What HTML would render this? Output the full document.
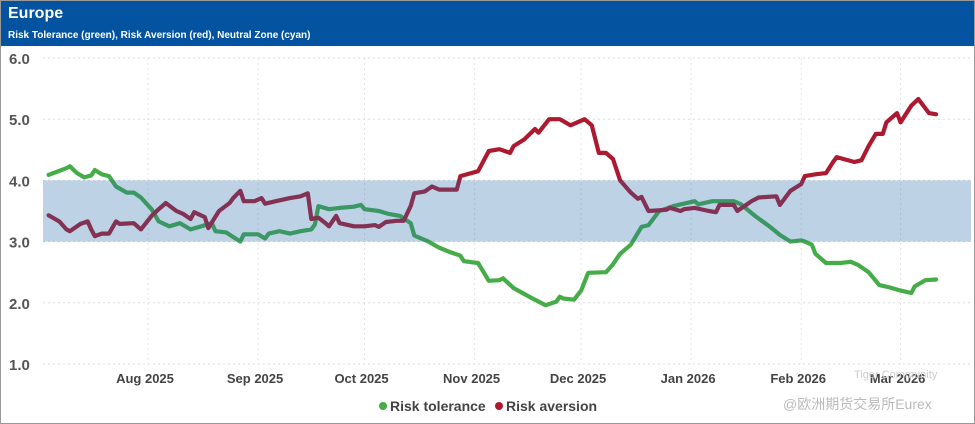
<!DOCTYPE html>
<html><head><meta charset="utf-8"><style>
body{margin:0;background:#fff;font-family:"Liberation Sans",sans-serif;}
#wrap{position:relative;width:973px;height:422px;border:1px solid #999;overflow:hidden;}
#hdr{position:absolute;left:0;top:0;width:973px;height:45px;background:#0453a0;color:#fff;}
#t1{position:absolute;left:7px;top:4px;font-size:16px;font-weight:bold;}
#t2{position:absolute;left:7px;top:29px;font-size:10px;font-weight:bold;}
svg{position:absolute;left:0;top:0;}
</style></head><body>
<div id="wrap">
<div id="hdr">
<div id="t1">Europe</div>
<div id="t2">Risk Tolerance (green), Risk Aversion (red), Neutral Zone (cyan)</div>
</div>
<svg id="chart" width="975" height="424"></svg>
</div>
<script>
const yTicks=[1,2,3,4,5,6];
const monthLabels=["Aug 2025","Sep 2025","Oct 2025","Nov 2025","Dec 2025","Jan 2026","Feb 2026","Mar 2026"];
const monthDays=[31,62,92,123,153,184,215,243];
const neutralZone=[3,4];
const tolDays=[3,8,9,11,13,15,16,18,20,22,25,27,29,32,34,37,40,43,46,49,50,53,57,58,62,64,65,68,71,74,77,78,79,82,85,89,91,92,96,99,102,105,106,110,113,116,119,120,124,127,130,131,134,139,143,146,147,148,151,153,155,160,162,164,167,170,172,175,179,185,186,190,196,198,202,206,209,212,215,216,218,219,222,226,229,231,234,237,240,243,246,247,250,253];
const tolVals=[4.09,4.2,4.23,4.12,4.05,4.08,4.17,4.1,4.07,3.9,3.8,3.8,3.72,3.53,3.33,3.25,3.3,3.2,3.25,3.3,3.17,3.15,3.0,3.12,3.12,3.05,3.13,3.17,3.13,3.17,3.2,3.28,3.58,3.53,3.55,3.57,3.6,3.53,3.5,3.45,3.42,3.3,3.1,3.0,2.9,2.83,2.77,2.68,2.65,2.36,2.37,2.4,2.24,2.08,1.96,2.02,2.1,2.07,2.05,2.2,2.49,2.5,2.63,2.8,2.95,3.24,3.27,3.5,3.58,3.66,3.61,3.66,3.66,3.61,3.42,3.25,3.11,3.0,3.02,3.0,2.95,2.8,2.65,2.65,2.67,2.62,2.5,2.29,2.25,2.2,2.16,2.27,2.37,2.38];
const avDays=[3,6,8,9,12,14,15,16,18,20,22,23,27,29,32,34,36,39,41,43,44,47,48,51,54,55,57,58,61,63,64,67,71,74,76,77,79,81,82,84,85,89,92,95,96,98,101,103,105,106,109,111,113,117,118,119,122,124,127,130,133,134,137,140,141,144,147,150,154,156,158,160,162,164,167,169,170,172,177,178,181,182,185,189,191,192,196,197,201,203,208,209,212,215,216,219,222,224,225,230,232,234,236,238,239,242,243,246,248,251,253];
const avVals=[3.43,3.33,3.2,3.17,3.29,3.33,3.2,3.09,3.13,3.13,3.33,3.29,3.3,3.2,3.42,3.53,3.63,3.5,3.45,3.37,3.48,3.4,3.22,3.5,3.63,3.71,3.83,3.66,3.66,3.71,3.62,3.66,3.71,3.74,3.79,3.37,3.39,3.3,3.25,3.42,3.3,3.25,3.25,3.27,3.24,3.32,3.34,3.34,3.58,3.79,3.82,3.9,3.85,3.85,3.85,4.07,4.12,4.15,4.48,4.51,4.45,4.56,4.67,4.84,4.78,5.0,5.0,4.9,5.0,4.9,4.45,4.45,4.35,4.0,3.8,3.7,3.73,3.5,3.52,3.55,3.5,3.53,3.55,3.5,3.48,3.6,3.6,3.5,3.66,3.72,3.74,3.6,3.83,3.94,4.07,4.1,4.12,4.3,4.38,4.3,4.33,4.56,4.76,4.76,4.95,5.1,4.95,5.22,5.33,5.1,5.08];

const NS="http://www.w3.org/2000/svg";
const svg=document.getElementById('chart');
const xS=d=>147+(d-31)*3.55;
const yS=v=>57+(6-v)*61.2;
function mk(tag,attrs,parent){const e=document.createElementNS(NS,tag);for(const k in attrs)e.setAttribute(k,attrs[k]);(parent||svg).appendChild(e);return e;}

yTicks.forEach(v=>{
  const g=mk('line',{x1:42,x2:970,y1:yS(v),y2:yS(v),stroke:'#ddd','stroke-dasharray':'2,3'});
  
  
  const t=mk('text',{x:8,y:yS(v)+6,'font-size':'15','font-weight':'bold',fill:'#555'});
  t.textContent=v.toFixed(1);
  
  
});
monthDays.forEach((d,i)=>{
  const g=mk('line',{x1:xS(d),x2:xS(d),y1:57,y2:363,stroke:'#e4e4e4','stroke-dasharray':'2,3'});
  
  
  const t=mk('text',{x:xS(d)-3,y:382,'font-size':'13','font-weight':'bold',fill:'#444','text-anchor':'middle'});
  t.textContent=monthLabels[i];
  
  
});
function line(days,vals,col,name){
  const p=mk('polyline',{points:days.map((d,i)=>xS(d).toFixed(1)+','+yS(vals[i]).toFixed(1)).join(' '),fill:'none',stroke:col,'stroke-width':4.2,'stroke-linejoin':'round','stroke-linecap':'round'});
  
  
}
line(tolDays,tolVals,'#45ad47','risk-tolerance-line');
line(avDays,avVals,'#ad1a30','risk-aversion-line');

const band=mk('rect',{x:42,y:yS(neutralZone[1]),width:928,height:yS(neutralZone[0])-yS(neutralZone[1]),fill:'rgb(35,105,168)','fill-opacity':0.3});



const leg=[['#45ad47','Risk tolerance',382],['#ad1a30','Risk aversion',498]];
leg.forEach(l=>{
  const c=mk('circle',{cx:l[2],cy:405,r:4,fill:l[0]});
  
  
  const t=mk('text',{x:l[2]+7,y:410,'font-size':'14','font-weight':'bold',fill:'#444'});
  t.textContent=l[1];
  
  
});
const w1=mk('text',{x:853,y:377,'font-size':'11',fill:'#ccc'});w1.textContent='Tiger Community';


const w2=mk('text',{x:782,y:408,'font-size':'14',fill:'#bbb','font-family':'"Liberation Sans","Noto Sans CJK SC",sans-serif'});w2.textContent='@欧洲期货交易所Eurex';


</script>
</body></html>
